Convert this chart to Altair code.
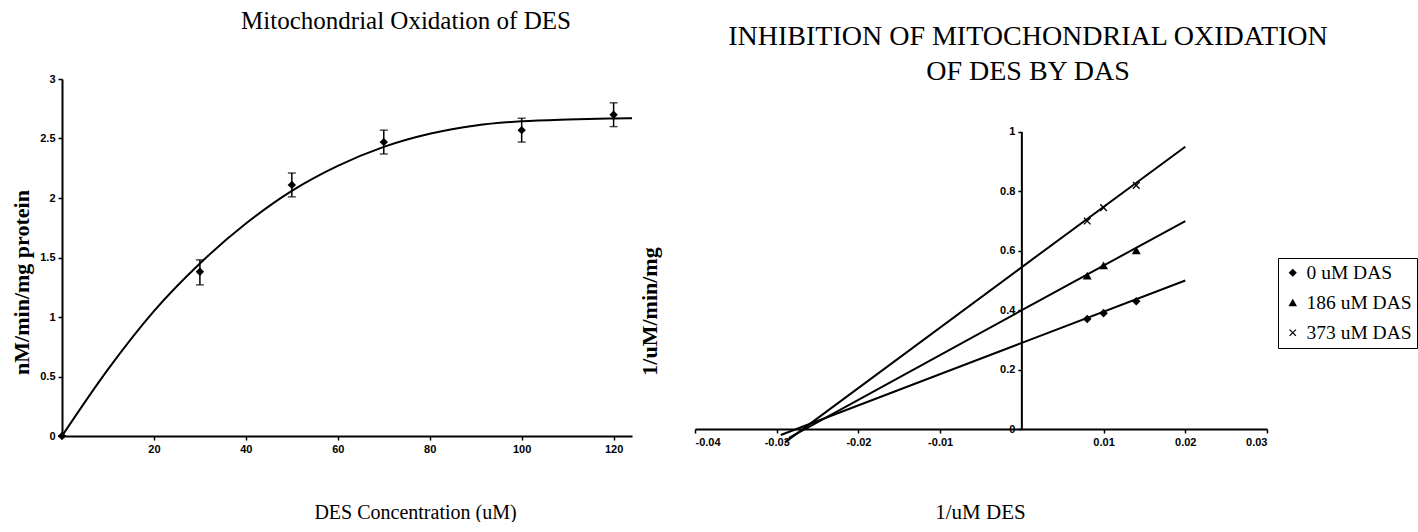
import altair as alt
import pandas as pd

# ---------------- Left panel: Mitochondrial Oxidation of DES ----------------
des_conc = [0, 30, 50, 70, 100, 120]
oxidation_rate = [0.0, 1.38, 2.11, 2.47, 2.57, 2.70]
rate_low = [0.0, 1.27, 2.01, 2.37, 2.47, 2.60]
rate_high = [0.0, 1.48, 2.21, 2.57, 2.67, 2.80]
fit_conc = [0, 10, 20, 30, 40, 50, 60, 70, 80, 90, 100, 110, 120, 124]
fit_rate = [0.0, 0.56, 1.05, 1.45, 1.785, 2.06, 2.27, 2.43, 2.54, 2.61, 2.645, 2.66, 2.668, 2.67]
left_x_ticks = [20, 40, 60, 80, 100, 120]
left_y_ticks = [0, 0.5, 1, 1.5, 2, 2.5, 3]

# ---------------- Right panel: Lineweaver-Burk, inhibition by DAS ----------------
das_series = ["0 uM DAS", "186 uM DAS", "373 uM DAS"]
inv_des = [0.008, 0.010, 0.014]
inv_rate_0 = [0.37, 0.39, 0.43]
inv_rate_186 = [0.515, 0.55, 0.60]
inv_rate_373 = [0.70, 0.745, 0.82]
fit_inv_des_0 = [-0.0295, 0.0, 0.02]
fit_inv_rate_0 = [-0.02, 0.29, 0.50]
fit_inv_des_186 = [-0.0285, 0.0, 0.02]
fit_inv_rate_186 = [-0.03, 0.40, 0.70]
fit_inv_des_373 = [-0.029, 0.0, 0.02]
fit_inv_rate_373 = [-0.045, 0.545, 0.95]
right_x_ticks = [-0.04, -0.03, -0.02, -0.01, 0.01, 0.02, 0.03]
right_y_ticks = [0, 0.2, 0.4, 0.6, 0.8, 1]
y_axis_line = [0, 1]

SERIF = "Liberation Serif"
SANS = "Liberation Sans"
LW, LH = 570, 357
RW, RH = 572, 350
R_TOP = 1.178

# ---------- left chart ----------
left_pts = pd.DataFrame({"conc": des_conc, "rate": oxidation_rate, "lo": rate_low, "hi": rate_high})
left_fit = pd.DataFrame({"conc": fit_conc, "rate": fit_rate})

lx = alt.Scale(domain=[0, 124], nice=False, zero=False)
ly = alt.Scale(domain=[0, 3], nice=False)

lx_axis = alt.Axis(values=left_x_ticks, title="DES Concentration (uM)", titleFontSize=20,
                   titleFontWeight="normal", titleX=353, titleY=76, titleAlign="center",
                   titleBaseline="middle", labelPadding=3)
ly_axis = alt.Axis(values=left_y_ticks, format="~g", title="nM/min/mg protein", titleFontSize=22,
                   titleFontWeight="bold", titleAngle=270, titleX=-41, titleY=203,
                   titleAlign="center", titleBaseline="middle", labelPadding=3)

curve = alt.Chart(left_fit).mark_line(color="black", strokeWidth=2, interpolate="monotone").encode(
    x=alt.X("conc:Q", scale=lx, axis=lx_axis),
    y=alt.Y("rate:Q", scale=ly, axis=ly_axis),
)
err_rule = alt.Chart(left_pts).mark_rule(color="black", strokeWidth=1.5).encode(
    x=alt.X("conc:Q", scale=lx), y=alt.Y("lo:Q", scale=ly), y2="hi:Q")
cap_lo = alt.Chart(left_pts).mark_tick(color="black", orient="horizontal", size=8, thickness=1.5).encode(
    x=alt.X("conc:Q", scale=lx), y=alt.Y("lo:Q", scale=ly))
cap_hi = alt.Chart(left_pts).mark_tick(color="black", orient="horizontal", size=8, thickness=1.5).encode(
    x=alt.X("conc:Q", scale=lx), y=alt.Y("hi:Q", scale=ly))
diamonds = alt.Chart(left_pts).mark_point(shape="diamond", filled=True, color="black", size=70, opacity=1).encode(
    x=alt.X("conc:Q", scale=lx), y=alt.Y("rate:Q", scale=ly))

left = alt.layer(curve, err_rule, cap_lo, cap_hi, diamonds).properties(
    width=LW, height=LH,
    title=alt.TitleParams("Mitochondrial Oxidation of DES", font=SERIF, fontSize=25,
                          fontWeight="normal", color="black", anchor="middle", dx=59, offset=39),
)

# ---------- right chart ----------
pt_rows = []
for s, ys in zip(das_series, [inv_rate_0, inv_rate_186, inv_rate_373]):
    for xv, yv in zip(inv_des, ys):
        pt_rows.append({"series": s, "x": xv, "y": yv})
right_pts = pd.DataFrame(pt_rows)

line_rows = []
for s, xs, ys in zip(das_series,
                     [fit_inv_des_0, fit_inv_des_186, fit_inv_des_373],
                     [fit_inv_rate_0, fit_inv_rate_186, fit_inv_rate_373]):
    for xv, yv in zip(xs, ys):
        line_rows.append({"series": s, "x": xv, "y": yv})
right_lines = pd.DataFrame(line_rows)

axis_df = pd.DataFrame({"x": [0], "y": [y_axis_line[0]], "y2": [y_axis_line[1]]})

rx = alt.Scale(domain=[-0.04, 0.03], nice=False, zero=False)
ry = alt.Scale(domain=[0, R_TOP], nice=False)

rx_axis = alt.Axis(values=right_x_ticks,
                   labelExpr="(datum.value < 0 ? '-' : '') + format(abs(datum.value), '.2f')",
                   title="1/uM DES", titleFontSize=21, titleFontWeight="normal",
                   titleX=285, titleY=83, titleAlign="center", titleBaseline="middle", labelPadding=3)
ry_axis = alt.Axis(values=right_y_ticks, format="~g", offset=-RW * 4 / 7, domain=False,
                   title="1/uM/min/mg", titleFontSize=22, titleFontWeight="bold", titleAngle=270,
                   titleX=-372, titleY=232, titleAlign="center", titleBaseline="middle", labelPadding=3)

lines = alt.Chart(right_lines).mark_line(color="black", strokeWidth=2).encode(
    x=alt.X("x:Q", scale=rx, axis=rx_axis),
    y=alt.Y("y:Q", scale=ry, axis=ry_axis),
    detail="series:N",
)
vline = alt.Chart(axis_df).mark_rule(color="black", strokeWidth=2).encode(
    x=alt.X("x:Q", scale=rx), y=alt.Y("y:Q", scale=ry), y2="y2:Q")

legend = alt.Legend(title=None, orient="none", legendX=1216, legendY=179, strokeColor="black",
                    fillColor="white", padding=5, labelFont=SERIF, labelFontSize=19.5,
                    labelColor="black", symbolSize=40, symbolStrokeWidth=1.3,
                    rowPadding=9, labelOffset=4)
shape_scale = alt.Scale(domain=das_series, range=["diamond", "triangle-up", "M-1,-1L1,1M-1,1L1,-1"])
fill_scale = alt.Scale(domain=das_series, range=["black", "black", "transparent"])
stroke_scale = alt.Scale(domain=das_series, range=["black", "black", "black"])

markers = alt.Chart(right_pts).mark_point(strokeWidth=1.3, size=45, opacity=1).encode(
    x=alt.X("x:Q", scale=rx),
    y=alt.Y("y:Q", scale=ry),
    shape=alt.Shape("series:N", scale=shape_scale, legend=legend),
    fill=alt.Fill("series:N", scale=fill_scale, legend=legend),
    stroke=alt.Stroke("series:N", scale=stroke_scale, legend=legend),
)

right = alt.layer(lines, vline, markers).properties(
    width=RW, height=RH,
    title=alt.TitleParams(["INHIBITION OF MITOCHONDRIAL OXIDATION", "OF DES BY DAS"], font=SERIF,
                          fontSize=28, lineHeight=35, fontWeight="normal", color="black",
                          anchor="middle", dx=47, offset=-7),
)

chart = alt.hconcat(left, right, spacing=63, bounds="flush").properties(
    padding={"left": 10, "top": 9, "right": 0, "bottom": 0},
    background="white",
).configure_view(stroke=None).configure_axis(
    labelFont=SANS, labelFontSize=11, labelFontWeight="bold", labelColor="black",
    domainColor="black", domainWidth=2, tickColor="black", tickWidth=1.5, tickSize=4,
    grid=False, titleFont=SERIF, titleColor="black",
)

chart.save("out.html", embed_options={"renderer": "svg", "actions": False})
